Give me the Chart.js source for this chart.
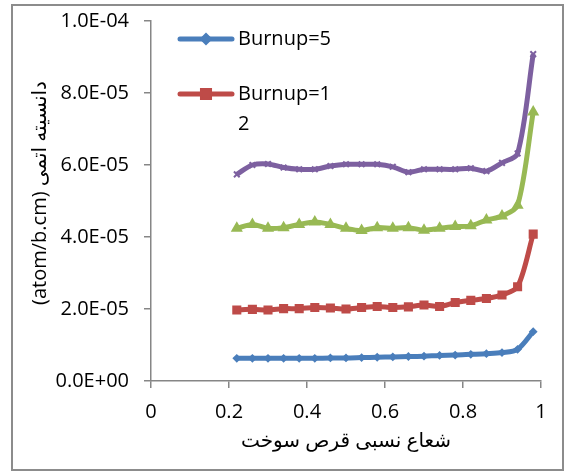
<!DOCTYPE html>
<html>
<head>
<meta charset="utf-8">
<script src="https://cdn.jsdelivr.net/npm/chart.js@4/dist/chart.umd.min.js"></script>
<style>
  html, body { margin: 0; padding: 0; background: #fff; }
  #wrap { width: 565px; height: 471px; }
</style>
</head>
<body>
<div id="wrap"><canvas id="chart" width="565" height="471"></canvas></div>
<script>
// relative radius of the fuel pellet
const radius = [0.22, 0.26, 0.30, 0.34, 0.38, 0.42, 0.46, 0.50, 0.54, 0.58,
                0.62, 0.66, 0.70, 0.74, 0.78, 0.82, 0.86, 0.90, 0.94, 0.98]

// atomic density, in units of 1e-6 atom/b.cm
const burnup5  = [6.3, 6.3, 6.3, 6.3, 6.3, 6.3, 6.4, 6.4, 6.5, 6.6,
                  6.7, 6.8, 6.9, 7.1, 7.2, 7.4, 7.6, 7.9, 8.8, 13.7]
const burnup12 = [19.7, 19.9, 19.7, 20.1, 20.1, 20.4, 20.3, 20.0, 20.4, 20.7,
                  20.4, 20.6, 21.1, 20.7, 21.8, 22.4, 22.9, 23.9, 26.2, 40.8]
const seriesC  = [42.4, 43.5, 42.4, 42.6, 43.5, 44.2, 43.5, 42.4, 41.8, 42.6,
                  42.4, 42.6, 41.9, 42.4, 42.9, 43.1, 44.7, 45.8, 48.8, 74.7]
const seriesD  = [57.4, 60.0, 60.3, 59.3, 58.8, 58.8, 59.7, 60.2, 60.2, 60.2,
                  59.5, 58.0, 58.8, 58.8, 58.8, 59.1, 58.3, 60.6, 63.2, 90.8]

const legendNames = ["Burnup=5", "Burnup=12"]
const xTitle = "شعاع نسبی قرص سوخت"
const yTitle = "دانسیته اتمی (atom/b.cm)"

const xTicks = [0, 0.2, 0.4, 0.6, 0.8, 1]
const yTicks = [0, 2e-5, 4e-5, 6e-5, 8e-5, 1e-4]

const FONT = "'Open Sans', 'DejaVu Sans', sans-serif"
const AXIS_COLOR = "#868686"

// build {x, y} points from the arrays
function points(values) {
  return radius.map((r, i) => ({ x: r, y: values[i] * 1e-6 }))
}

// 1.0E-04 style labels
function sci(v) {
  if (Math.abs(v) < 1e-12) return "0.0E+00"
  const [m, e] = v.toExponential(1).split("e")
  const exp = parseInt(e, 10)
  const sign = exp < 0 ? "-" : "+"
  return m + "E" + sign + String(Math.abs(exp)).padStart(2, "0")
}

function series(label, values, color, style, size) {
  return {
    label: label,
    data: points(values),
    borderColor: color,
    backgroundColor: color,
    borderWidth: 5,
    pointStyle: style,
    pointRadius: size,
    pointBorderWidth: 2,
    pointBorderColor: color,
    pointBackgroundColor: color,
    tension: 0.3,
    showLine: true,
  }
}

// border, axis titles and the in-plot legend
const decorations = {
  id: "decorations",
  afterDraw(chart) {
    const ctx = chart.ctx
    const area = chart.chartArea
    ctx.save()

    // outer frame
    ctx.strokeStyle = "#8c8c8c"
    ctx.lineWidth = 2
    ctx.strokeRect(12, 5, 551, 465)

    ctx.fillStyle = "#000"

    // x title
    ctx.font = "20px " + FONT
    ctx.direction = "rtl"
    ctx.textAlign = "center"
    ctx.textBaseline = "middle"
    ctx.fillText(xTitle, (area.left + area.right) / 2, 441)

    // y title, rotated
    ctx.save()
    ctx.translate(40, 193)
    ctx.rotate(-Math.PI / 2)
    ctx.fillText(yTitle, 0, 0)
    ctx.restore()

    // legend, first two series only
    ctx.direction = "ltr"
    ctx.textAlign = "left"
    ctx.font = "20px " + FONT
    const rows = [39, 94]
    legendNames.forEach((name, i) => {
      const ds = chart.data.datasets[i]
      const y = rows[i]
      ctx.strokeStyle = ds.borderColor
      ctx.lineWidth = 5
      ctx.lineCap = "round"
      ctx.beginPath()
      ctx.moveTo(180, y)
      ctx.lineTo(232, y)
      ctx.stroke()
      Chart.helpers.drawPoint(ctx, {
        pointStyle: ds.pointStyle,
        radius: ds.pointRadius,
        borderWidth: 1,
      }, 206, y)
      ctx.fillStyle = ds.borderColor
      ctx.fill()
      ctx.fillStyle = "#000"
      // wrap label to the legend width
      const maxW = 98
      let lines = [name]
      if (ctx.measureText(name).width > maxW) {
        let cut = name.length
        while (cut > 1 && ctx.measureText(name.slice(0, cut)).width > maxW) cut--
        lines = [name.slice(0, cut), name.slice(cut)]
      }
      lines.forEach((t, k) => ctx.fillText(t, 238, y + k * 30))
    })

    ctx.restore()
  }
}

new Chart(document.getElementById("chart"), {
  type: "scatter",
  data: {
    datasets: [
      series(legendNames[0], burnup5, "#4A7EBB", "rectRot", 3),
      series(legendNames[1], burnup12, "#BE4B48", "rect", 5),
      series("", seriesC, "#98B954", "triangle", 5),
      series("", seriesD, "#7D60A0", "crossRot", 4),
    ]
  },
  options: {
    responsive: false,
    devicePixelRatio: 1,
    animation: false,
    layout: { padding: { left: 0, top: 21, right: 24, bottom: 0 } },
    plugins: {
      legend: { display: false },
      tooltip: { enabled: false },
    },
    scales: {
      x: {
        type: "linear",
        min: xTicks[0],
        max: xTicks[xTicks.length - 1],
        afterFit: (s) => { s.height = 90; s.paddingLeft = 0; s.paddingRight = 0 },
        afterBuildTicks: (s) => { s.ticks = xTicks.map(v => ({ value: v })) },
        grid: { display: true, drawOnChartArea: false, drawTicks: true, tickLength: 7, color: AXIS_COLOR, lineWidth: 1.5 },
        border: { display: true, color: AXIS_COLOR, width: 1.5 },
        ticks: {
          color: "#000",
          font: { family: FONT, size: 20 },
          padding: 12,
          maxRotation: 0,
          callback: (v) => String(Number(v.toFixed(1))),
        },
      },
      y: {
        type: "linear",
        min: yTicks[0],
        max: yTicks[yTicks.length - 1],
        afterFit: (s) => { s.width = 151; s.paddingTop = 0; s.paddingBottom = 0 },
        afterBuildTicks: (s) => { s.ticks = yTicks.map(v => ({ value: v })) },
        grid: { display: true, drawOnChartArea: false, drawTicks: true, tickLength: 7, color: AXIS_COLOR, lineWidth: 1.5 },
        border: { display: true, color: AXIS_COLOR, width: 1.5 },
        ticks: {
          color: "#000",
          font: { family: FONT, size: 20 },
          padding: 15,
          callback: (v) => sci(v),
        },
      },
    },
  },
  plugins: [decorations],
})
</script>
</body>
</html>
